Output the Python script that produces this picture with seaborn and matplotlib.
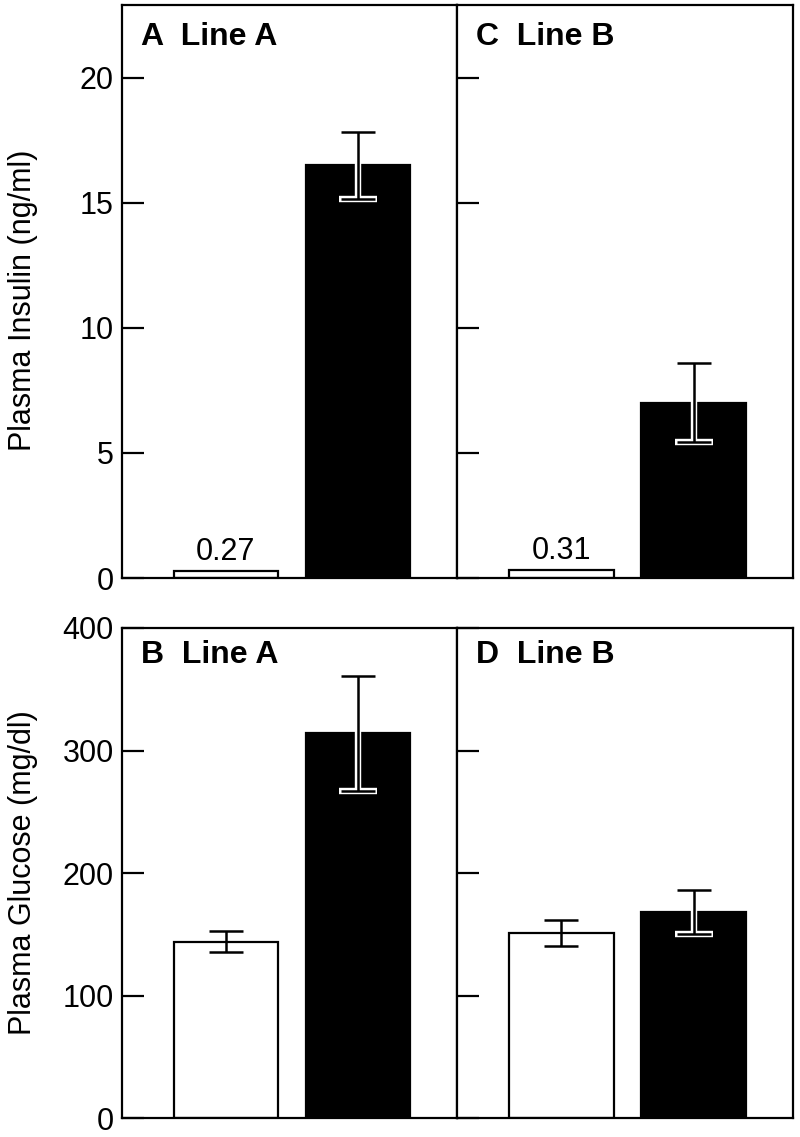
import matplotlib
matplotlib.use("Agg")
import matplotlib.pyplot as plt
import seaborn as sns
import pandas as pd

sns.set_theme(style="white")
plt.rcParams['font.family'] = ['Liberation Sans', 'DejaVu Sans']
plt.rcParams['text.color'] = 'black'
plt.rcParams['axes.labelcolor'] = 'black'

groups = ["Control", "Transgenic"]
panel_letters = ["A", "B", "C", "D"]
panel_lines = ["Line A", "Line A", "Line B", "Line B"]

insulin_lineA = [0.27, 16.5]
insulin_lineA_err = [0.0, 1.34]
insulin_lineB = [0.31, 7.0]
insulin_lineB_err = [0.0, 1.58]
glucose_lineA = [144, 314]
glucose_lineA_err = [8.5, 47]
glucose_lineB = [151, 168]
glucose_lineB_err = [10.4, 18]

insulin_ticks = [0, 5, 10, 15, 20]
glucose_ticks = [0, 100, 200, 300, 400]

fig = plt.figure(figsize=(8, 11.37), dpi=100)
L, M, R = 0.1525, 0.571, 0.991
top_row = (0.4916, 0.9956)
bot_row = (0.0165, 0.4477)

def make_ax(x0, x1, row):
    return fig.add_axes([x0, row[0], x1 - x0, row[1] - row[0]])

axA = make_ax(L, M, top_row)
axC = make_ax(M, R, top_row)
axB = make_ax(L, M, bot_row)
axD = make_ax(M, R, bot_row)

palette = {"Control": "white", "Transgenic": "black"}

def draw(ax, vals, errs, letter, line, ylim, ticks, labels, value_label):
    df = pd.DataFrame({"group": groups, "value": vals})
    sns.barplot(data=df, x="group", y="value", hue="group", palette=palette,
                edgecolor="black", linewidth=1.6, width=0.79, ax=ax,
                legend=False, errorbar=None, zorder=2)
    centers = [p.get_x() + p.get_width() / 2 for p in ax.patches]
    for i, (c, v, e) in enumerate(zip(centers, vals, errs)):
        if e <= 0:
            continue
        if groups[i] == "Transgenic":
            ax.errorbar([c], [v], yerr=[e], fmt="none", ecolor="white",
                        elinewidth=4.6, capsize=13.5, capthick=4.6, zorder=3)
        ax.errorbar([c], [v], yerr=[e], fmt="none", ecolor="black",
                    elinewidth=1.8, capsize=12.5, capthick=1.8, zorder=4)
    if value_label:
        ax.text(centers[0], vals[0] + 0.45, f"{vals[0]:.2f}", ha="center",
                va="baseline", fontsize=22, color="black")
    ax.set_xlim(-0.785, 1.745)
    ax.set_ylim(*ylim)
    ax.set_yticks(ticks)
    ax.tick_params(axis="y", direction="in", length=16, width=1.6,
                   labelsize=22, pad=6, left=True, colors="black")
    ax.tick_params(axis="x", bottom=False, labelbottom=False)
    if not labels:
        ax.tick_params(axis="y", labelleft=False)
    ax.set_xlabel("")
    ax.set_ylabel("")
    for s in ax.spines.values():
        s.set_visible(True)
        s.set_color("black")
        s.set_linewidth(1.6)
    ax.text(0.057, 0.945, f"{letter}  {line}", transform=ax.transAxes,
            fontsize=23, fontweight="bold", ha="left", va="center",
            color="black")

draw(axA, insulin_lineA, insulin_lineA_err, panel_letters[0], panel_lines[0],
     (0, 22.9), insulin_ticks, True, True)
draw(axC, insulin_lineB, insulin_lineB_err, panel_letters[2], panel_lines[2],
     (0, 22.9), insulin_ticks, False, True)
draw(axB, glucose_lineA, glucose_lineA_err, panel_letters[1], panel_lines[1],
     (0, 400), glucose_ticks, True, False)
draw(axD, glucose_lineB, glucose_lineB_err, panel_letters[3], panel_lines[3],
     (0, 400), glucose_ticks, False, False)

axA.set_ylabel("Plasma Insulin (ng/ml)", fontsize=22, color="black")
axA.yaxis.set_label_coords(-0.25, 0.485)
axB.set_ylabel("Plasma Glucose (mg/dl)", fontsize=22, color="black")
axB.yaxis.set_label_coords(-0.25, 0.5)

fig.savefig("out.png", dpi=100)
